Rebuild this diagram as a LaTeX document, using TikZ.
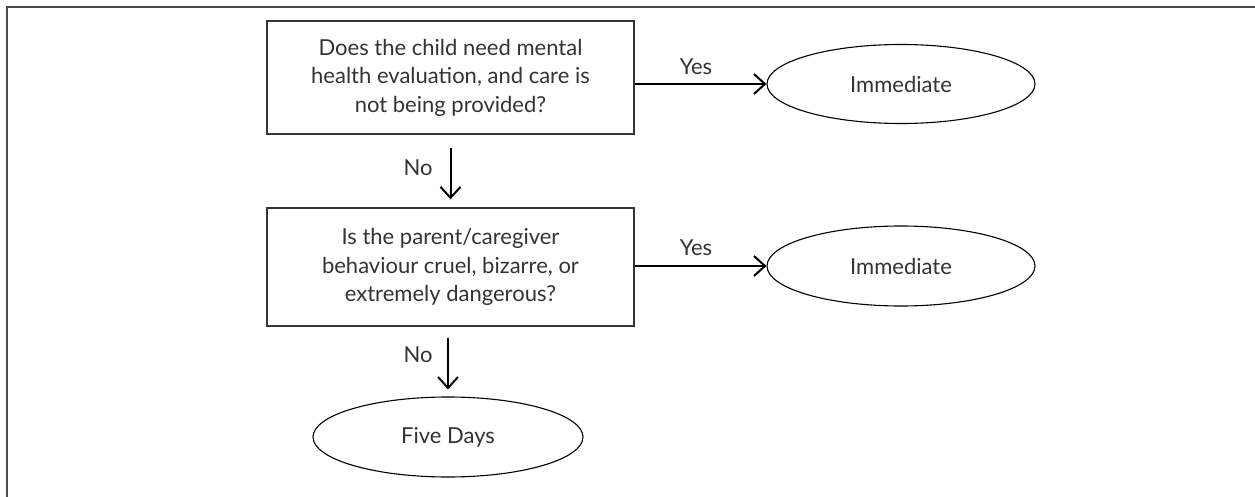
\documentclass[tikz,border=0pt]{standalone}
\usepackage{fontspec}
\setmainfont{Lato}
\usetikzlibrary{arrows.meta,shapes.geometric}
\tikzset{
  qbox/.style={draw=black!80, line width=1.3pt, minimum width=367pt, align=center, font=\fontsize{22}{28.5}\selectfont, text=black!80, inner sep=0pt},
  oval/.style={ellipse, draw=black, line width=1.1pt, minimum width=268pt, minimum height=79pt, font=\fontsize{22}{26}\selectfont, text=black!80, inner sep=0pt},
  arr/.style={line width=2pt, -{Straight Barb[length=11pt,width=20pt,line width=2pt]}},
  lbl/.style={font=\fontsize{22}{26}\selectfont, text=black!80, inner sep=0pt},
  frame/.style={draw=black!70, line width=2pt}
}
\begin{document}
\begin{tikzpicture}[x=1pt,y=-1pt]
\useasboundingbox (0,0) rectangle (1255,497);
\draw[frame] (7,497) -- (7,7) -- (1256,7);
\node[qbox, minimum height=113pt] (q1) at (450.5,77.5) {Does the child need mental\\health evaluation, and care is\\not being provided?};
\node[qbox, minimum height=118pt] (q2) at (450.5,267) {Is the parent/caregiver\\behaviour cruel, bizarre, or\\extremely dangerous?};
\node[oval] (e1) at (901,84) {Immediate};
\node[oval, minimum height=80pt] (e2) at (901,266) {Immediate};
\node[oval, minimum width=270pt, minimum height=80pt] (e3) at (448,437) {Five Days};
\draw[arr] (q1.east |- e1.west) -- (e1.west);
\draw[arr] (q2.east |- e2.west) -- (e2.west);
\draw[arr, shorten <=13pt, shorten >=8pt] (q1.south) -- (q2.north);
\draw[arr, shorten <=11pt, shorten >=7pt] (q2.south -| e3.north) -- (e3.north);
\node[lbl] (y1) at (696,67) {Yes};
\node[lbl] (y2) at (696,248) {Yes};
\node[lbl] (n1) at (418,168) {No};
\node[lbl] (n2) at (418,355) {No};
\end{tikzpicture}
\end{document}
